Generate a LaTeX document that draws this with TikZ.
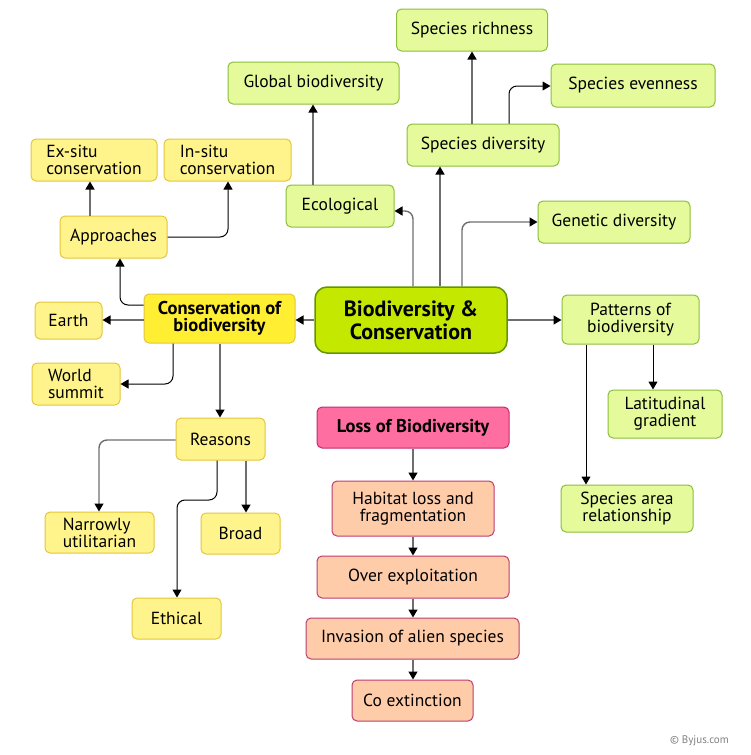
\documentclass[tikz,border=0pt]{standalone}
\usepackage{fontspec}
\setmainfont{PT Sans}
\usetikzlibrary{arrows.meta}
\definecolor{gfill}{RGB}{229,250,155}
\definecolor{gdraw}{RGB}{140,190,60}
\definecolor{mfill}{RGB}{196,232,0}
\definecolor{mdraw}{RGB}{100,150,0}
\definecolor{yfill}{RGB}{255,244,140}
\definecolor{ydraw}{RGB}{228,198,60}
\definecolor{cfill}{RGB}{255,238,50}
\definecolor{pfill}{RGB}{255,110,160}
\definecolor{pdraw}{RGB}{200,40,110}
\definecolor{ofill}{RGB}{255,204,170}
\definecolor{odraw}{RGB}{190,60,110}
\definecolor{lgray}{RGB}{110,110,110}
\tikzset{
  box/.style={rounded corners=5pt, line width=1pt, inner sep=1pt, font=\fontsize{17.5}{17}\selectfont, align=center},
  gbox/.style={box, fill=gfill, draw=gdraw},
  ybox/.style={box, fill=yfill, draw=ydraw},
  obox/.style={box, fill=ofill, draw=odraw},
  bbox/.style={font=\fontsize{18.5}{17.5}\selectfont\bfseries},
  arr/.style={line width=1.4pt, draw=lgray, rounded corners=8pt, -{Triangle[width=9pt,length=8pt,color=black]}},
  barr/.style={arr, draw=black, line width=1pt},
}
\begin{document}
\begin{tikzpicture}[x=1pt,y=-1pt]
\useasboundingbox (0,0) rectangle (750,755);
% green
\node[gbox, minimum width=151, minimum height=42] (sr) at (472,30) {Species richness};
\node[gbox, minimum width=164, minimum height=43] (se) at (633,85.5) {Species evenness};
\node[gbox, minimum width=171, minimum height=42] (gb) at (313.5,83) {Global biodiversity};
\node[gbox, minimum width=152, minimum height=42] (sd) at (483,145) {Species diversity};
\node[gbox, minimum width=108, minimum height=42] (ec) at (340,206) {Ecological};
\node[gbox, minimum width=152, minimum height=42] (gd) at (614,222) {Genetic diversity};
\node[box, fill=mfill, draw=mdraw, line width=1.5pt, rounded corners=12pt, minimum width=192, minimum height=66, font=\fontsize{22}{23}\selectfont\bfseries] (bc) at (411,320) {Biodiversity \&\\Conservation};
\node[gbox, minimum width=137, minimum height=49] (pb) at (630.5,319.5) {Patterns of\\biodiversity};
\node[gbox, minimum width=114, minimum height=48] (lg) at (665,414) {Latitudinal\\gradient};
\node[gbox, minimum width=132, minimum height=47] (sa) at (627,508.5) {Species area\\relationship};
% yellow
\node[ybox, minimum width=126, minimum height=42, align=left] (ex) at (94,160) {Ex-situ\\conservation};
\node[ybox, minimum width=127, minimum height=42, align=left] (in) at (227.5,160) {In-situ\\conservation};
\node[ybox, minimum width=107, minimum height=42] (ap) at (113.5,237) {Approaches};
\node[box, bbox, fill=cfill, draw=ydraw, minimum width=151, minimum height=49] (cb) at (219.5,318.5) {Conservation of\\biodiversity};
\node[ybox, minimum width=67, minimum height=37] (ea) at (68.5,320.5) {Earth};
\node[ybox, minimum width=88, minimum height=42, align=left] (ws) at (76,384) {World\\summit};
\node[ybox, minimum width=89, minimum height=42] (re) at (220.5,439) {Reasons};
\node[ybox, minimum width=109, minimum height=41, align=left] (nu) at (99.5,532.5) {Narrowly\\utilitarian};
\node[ybox, minimum width=79, minimum height=41] (br) at (240.5,533.5) {Broad};
\node[ybox, minimum width=89, minimum height=41] (et) at (176.5,618.5) {Ethical};
% pink
\node[box, bbox, fill=pfill, draw=pdraw, minimum width=192, minimum height=41] (lb) at (413,427.5) {Loss of Biodiversity};
\node[obox, minimum width=162, minimum height=55] (hl) at (413,508.5) {Habitat loss and\\fragmentation};
\node[obox, minimum width=192, minimum height=42] (oe) at (413,577) {Over exploitation};
\node[obox, minimum width=213, minimum height=41] (ia) at (412.5,638.5) {Invasion of alien species};
\node[obox, minimum width=121, minimum height=41] (ce) at (412.5,700.5) {Co extinction};
% copyright
\node[text=gray, font=\fontsize{11}{12}\selectfont, anchor=east, inner sep=0pt] (cp) at (729,741) {© Byjus.com};
% connectors - top
\draw[arr] (bc.north -| 413,0) |- (ec.east |- 0,211);
\draw[arr] (bc.north -| 440,0) -- (sd.south -| 440,0);
\draw[arr] (bc.north -| 462,0) |- (gd.west |- 0,222);
\draw[arr] (ec.north -| 313,0) -- (gb.south -| 313,0);
\draw[arr] (sd.north -| 472,0) -- (sr.south -| 472,0);
\draw[barr] (sd.north -| 509,0) |- (se.west |- 0,86);
% main sides
\draw[arr] (bc.west) -- (cb.east |- bc.west);
\draw[arr] (bc.east) -- (pb.west |- bc.east);
% conservation branch
\draw[barr] (cb.west |- 0,305) -| (ap.south -| 120,0);
\draw[arr] (ap.north -| 90,0) -- (ex.south -| 90,0);
\draw[barr] (ap.east) -| (in.south -| 228,0);
\draw[arr] (cb.west |- 0,320) -- (ea.east |- 0,320);
\draw[barr] (cb.south -| 173,0) |- (ws.east |- 0,384);
\draw[arr] (cb.south -| 220,0) -- (re.north -| 220,0);
\draw[arr] (re.west |- 0,440) -| (nu.north -| 99,0);
\draw[arr] (re.south -| 246,0) -- (br.north -| 246,0);
\draw[barr] (re.south -| 217,0) |- (197,500) -| (et.north -| 177,0);
% patterns
\draw[barr] (pb.south -| 653,0) -- (lg.north -| 653,0);
\draw[barr] (pb.south -| 586,0) -- (sa.north -| 586,0);
% loss chain
\draw[arr] (lb) -- (hl);
\draw[arr] (hl) -- (oe);
\draw[arr] (oe) -- (ia.north -| oe.south);
\draw[arr] (ia.south -| oe.south) -- (ce.north -| oe.south);
\end{tikzpicture}
\end{document}
